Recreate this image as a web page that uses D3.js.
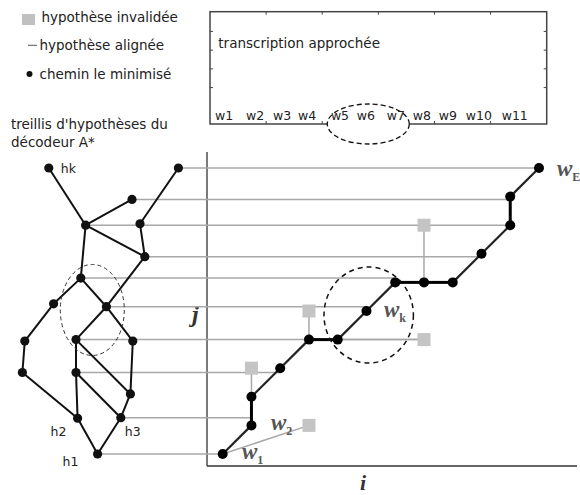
<!DOCTYPE html>
<html>
<head>
<meta charset="utf-8">
<script src="https://cdn.jsdelivr.net/npm/d3@7"></script>
<style>
  body { margin: 0; background: #fff; }
  text { font-family: "DejaVu Sans", sans-serif; }
  .serif { font-family: "Liberation Serif", "DejaVu Serif", serif; font-style: italic; }
</style>
</head>
<body>
<svg id="chart" width="580" height="495"></svg>
<script>
// legend entries
var legendLabels = ['hypothèse invalidée', 'hypothèse alignée', 'chemin le minimisé'];
var legendKinds = ['square', 'line', 'dot'];
var trellisTitle = ["treillis d'hypothèses du", 'décodeur A*'];

// transcription box
var transcriptionTitle = 'transcription approchée';
var words = ['w1', 'w2', 'w3', 'w4', 'w5', 'w6', 'w7', 'w8', 'w9', 'w10', 'w11'];
var wordStarts = [0, 3.1, 5.8, 8.3, 11.6, 14.2, 17.2, 19.8, 22.4, 25.1, 28.7];
var boxTicks = [2, 4, 6, 8, 10];

// trellis of hypotheses (x in columns, y in j units)
var trellisX = [1.8, 9.9, 7.0, 4.1, 7.5, 7.8, 3.8, 2.1, 5.4, 0.3, 3.5, 7.05, 0.15, 3.5, 6.9, 3.6, 6.3, 4.85];
var trellisY = [10.0, 10.0, 8.9, 8.0, 8.05, 6.9, 6.15, 5.25, 5.15, 3.95, 4.0, 3.95, 2.85, 2.85, 2.1, 1.25, 1.27, 0];
var trellisEdges = [[0, 3], [1, 4], [2, 3], [3, 5], [4, 5], [3, 6], [5, 8], [6, 7], [6, 8], [7, 9],
  [8, 10], [8, 11], [9, 12], [10, 13], [10, 14], [11, 14], [12, 15], [13, 15], [13, 16], [14, 16],
  [15, 17], [16, 17]];
var trellisLabels = [[0, 'hk'], [15, 'h2'], [16, 'h3'], [17, 'h1']];

// alignment: trellis node -> column i on the grid
var alignNode = [1, 2, 3, 5, 6, 8, 10, 13, 16, 17];
var alignCol = [11, 10, 10, 9, 6, 5, 7, 2, 1, 0];

// minimal path on the (i, j) grid
var pathI = [0, 1, 1, 2, 3, 4, 5, 6, 7, 8, 9, 10, 10, 11];
var pathJ = [0, 1, 2, 3, 4, 4, 5, 6, 6, 6, 7, 8, 9, 10];

// rejected hypotheses: from path point index to square (i, j)
var rejFrom = [4, 5, 2, 0, 8];
var rejI = [3, 7, 1, 3, 7];
var rejJ = [5, 4, 3, 1, 8];

var svg = d3.select('#chart');

// scales
var x = d3.scaleLinear().domain([0, 11]).range([222.7, 539]);
var y = d3.scaleLinear().domain([0, 10]).range([454, 168]);
var tx = d3.scaleLinear().domain([0, 10]).range([20, 180]);
var wx = d3.scaleLinear().domain([0, 28.7]).range([215, 501.7]);

// legend
var leg = svg.append('g');
legendLabels.forEach(function (t, k) {
  var yy = 22 + k * 28.3;
  var kind = legendKinds[k];
  if (kind === 'square') leg.append('rect').attr('x', 22).attr('y', yy - 8).attr('width', 13).attr('height', 11).attr('fill', '#c0c0c0');
  if (kind === 'line') leg.append('line').attr('x1', 28).attr('x2', 37).attr('y1', yy - 5).attr('y2', yy - 5).attr('stroke', '#555').attr('stroke-width', 1);
  if (kind === 'dot') leg.append('circle').attr('cx', 29.5).attr('cy', yy - 4.5).attr('r', 3).attr('fill', '#111');
  leg.append('text').attr('x', kind === 'square' ? 41.5 : 39.5).attr('y', yy)
    .attr('font-size', 13.5).attr('fill', '#222').text(t);
});
trellisTitle.forEach(function (t, k) {
  svg.append('text').attr('x', 11).attr('y', 128.5 + k * 18.3).attr('font-size', 13.5).attr('fill', '#222').text(t);
});

// transcription box
var box = { x0: 210, y0: 11.7, x1: 546.7, y1: 124 };
svg.append('rect').attr('x', box.x0).attr('y', box.y0).attr('width', box.x1 - box.x0).attr('height', box.y1 - box.y0)
  .attr('fill', '#fff').attr('stroke', '#444').attr('stroke-width', 1.5);
var bx = d3.scaleLinear().domain([0, 12]).range([box.x0, box.x1]);
var by = d3.scaleLinear().domain([0, 6]).range([box.y0, box.y1]);
boxTicks.forEach(function (t) {
  svg.append('line').attr('x1', bx(t)).attr('x2', bx(t)).attr('y1', box.y0).attr('y2', box.y0 + 3).attr('stroke', '#444');
  svg.append('line').attr('x1', bx(t)).attr('x2', bx(t)).attr('y1', box.y1).attr('y2', box.y1 - 3).attr('stroke', '#444');
});
[1, 2, 3, 4].forEach(function (t) {
  svg.append('line').attr('x1', box.x0).attr('x2', box.x0 + 3).attr('y1', by(t) + 1).attr('y2', by(t) + 1).attr('stroke', '#444');
  svg.append('line').attr('x1', box.x1).attr('x2', box.x1 - 3).attr('y1', by(t) + 1).attr('y2', by(t) + 1).attr('stroke', '#444');
});
svg.append('ellipse').attr('cx', 368.3).attr('cy', 124).attr('rx', 41).attr('ry', 20)
  .attr('fill', '#fff').attr('stroke', '#111').attr('stroke-width', 1.3).attr('stroke-dasharray', '5,3');
svg.append('text').attr('x', 218.3).attr('y', 48).attr('font-size', 13.5).attr('fill', '#222').text(transcriptionTitle);
svg.selectAll('.word').data(words).enter().append('text')
  .attr('x', function (d, k) { return wx(wordStarts[k]); })
  .attr('y', 120).attr('font-size', 12.5).attr('fill', '#222').text(function (d) { return d; });

// axes
svg.append('line').attr('x1', 207).attr('x2', 207).attr('y1', 152).attr('y2', 466).attr('stroke', '#333').attr('stroke-width', 1.3);
svg.append('line').attr('x1', 207).attr('x2', 577).attr('y1', 466).attr('y2', 466).attr('stroke', '#333').attr('stroke-width', 1.3);
svg.append('text').attr('class', 'serif').attr('x', 192).attr('y', 322).attr('font-size', 24).attr('font-weight', 'bold').attr('fill', '#333').text('j');
svg.append('text').attr('class', 'serif').attr('x', 360).attr('y', 490).attr('font-size', 22).attr('font-weight', 'bold').attr('fill', '#333').text('i');

// alignment lines (gray)
var gray = svg.append('g').attr('stroke', '#a8a8a8').attr('stroke-width', 1.5);
alignNode.forEach(function (n, k) {
  gray.append('line').attr('x1', tx(trellisX[n])).attr('x2', x(alignCol[k]))
    .attr('y1', y(trellisY[n])).attr('y2', y(trellisY[n]));
});
rejFrom.forEach(function (p, k) {
  gray.append('line').attr('x1', x(pathI[p])).attr('y1', y(pathJ[p]))
    .attr('x2', x(rejI[k])).attr('y2', y(rejJ[k]));
});
svg.selectAll('.rej').data(rejI).enter().append('rect')
  .attr('x', function (d) { return x(d) - 6.5; })
  .attr('y', function (d, k) { return y(rejJ[k]) - 6.5; })
  .attr('width', 13).attr('height', 13).attr('fill', '#c4c4c4');

// trellis
var tl = svg.append('g').attr('stroke', '#111').attr('stroke-width', 2);
trellisEdges.forEach(function (e) {
  tl.append('line').attr('x1', tx(trellisX[e[0]])).attr('y1', y(trellisY[e[0]]))
    .attr('x2', tx(trellisX[e[1]])).attr('y2', y(trellisY[e[1]]));
});
svg.selectAll('.tn').data(trellisX).enter().append('circle')
  .attr('cx', function (d) { return tx(d); })
  .attr('cy', function (d, k) { return y(trellisY[k]); })
  .attr('r', 4.6).attr('fill', '#111');
var lblOff = { hk: [12, 5], h2: [-27, 18], h3: [4, 18], h1: [-35, 12] };
trellisLabels.forEach(function (l) {
  var n = l[0];
  svg.append('text').attr('x', tx(trellisX[n]) + lblOff[l[1]][0]).attr('y', y(trellisY[n]) + lblOff[l[1]][1])
    .attr('font-size', 12.5).attr('fill', '#222').text(l[1]);
});
svg.append('ellipse').attr('cx', 92.3).attr('cy', 310).attr('rx', 32).attr('ry', 45.5)
  .attr('fill', 'none').attr('stroke', '#333').attr('stroke-width', 1).attr('stroke-dasharray', '4,3');

// minimal path
for (var k = 1; k < pathI.length; k++) {
  var straight = pathI[k] === pathI[k - 1] || pathJ[k] === pathJ[k - 1];
  svg.append('line').attr('x1', x(pathI[k - 1])).attr('y1', y(pathJ[k - 1]))
    .attr('x2', x(pathI[k])).attr('y2', y(pathJ[k]))
    .attr('stroke', straight ? '#000' : '#222').attr('stroke-width', straight ? 3 : 2.2);
}
svg.selectAll('.pn').data(pathI).enter().append('circle')
  .attr('cx', function (d) { return x(d); })
  .attr('cy', function (d, k) { return y(pathJ[k]); })
  .attr('r', 5).attr('fill', '#000');

svg.append('ellipse').attr('cx', 368.7).attr('cy', 315).attr('rx', 44.7).attr('ry', 48)
  .attr('fill', 'none').attr('stroke', '#111').attr('stroke-width', 1.5).attr('stroke-dasharray', '5,4');

// word labels on the path
function wlabel(px, py, sub) {
  var t = svg.append('text').attr('class', 'serif').attr('x', px).attr('y', py)
    .attr('font-size', 23).attr('font-weight', 'bold').attr('fill', '#555');
  t.append('tspan').text('w');
  t.append('tspan').attr('font-size', 12).attr('font-style', 'normal').attr('dy', 5).text(sub);
}
wlabel(384, 317, 'k');
wlabel(557, 176, 'E');
wlabel(271, 430, '2');
wlabel(242, 459, '1');
</script>
</body>
</html>
